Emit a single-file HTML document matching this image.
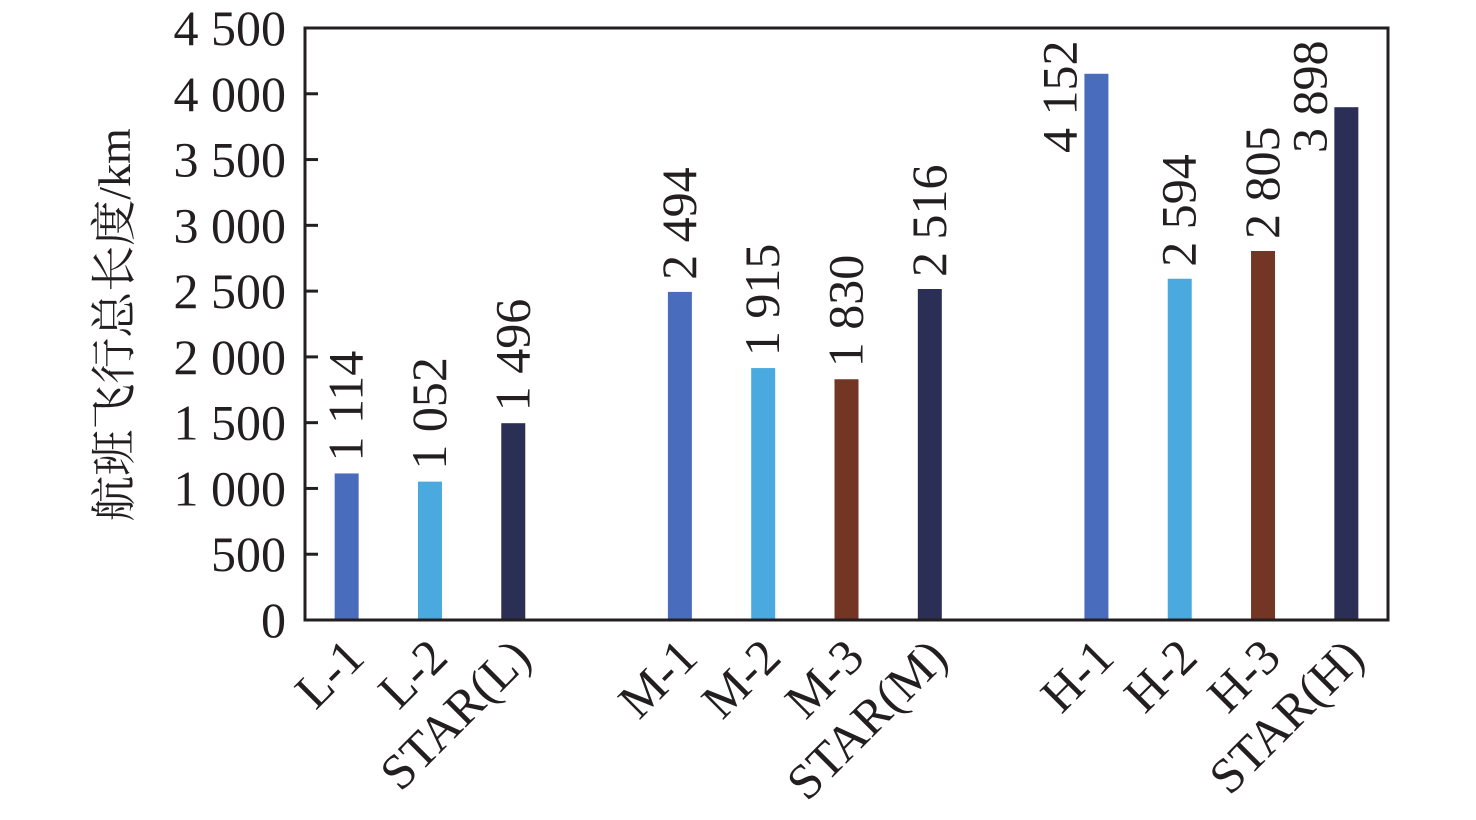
<!DOCTYPE html>
<html><head><meta charset="utf-8"><style>
html,body{margin:0;padding:0;background:#fff;width:1476px;height:820px;overflow:hidden}
svg text{font-family:"Liberation Serif","Noto Serif CJK SC",serif;fill:#231f20}
</style></head><body>
<svg id="chart" width="1476" height="820" viewBox="0 0 1476 820" xmlns="http://www.w3.org/2000/svg"></svg>
<script>
const categories = ["L-1","L-2","STAR(L)","M-1","M-2","M-3","STAR(M)","H-1","H-2","H-3","STAR(H)"];
const slots = [0,1,2,4,5,6,7,9,10,11,12];
const values = [1114,1052,1496,2494,1915,1830,2516,4152,2594,2805,3898];
const valueLabels = ["1 114","1 052","1 496","2 494","1 915","1 830","2 516","4 152","2 594","2 805","3 898"];
const colorKeys = ["a","b","d","a","b","c","d","a","b","c","d"];
const yTicks = [0,500,1000,1500,2000,2500,3000,3500,4000,4500];
const yTickLabels = ["0","500","1 000","1 500","2 000","2 500","3 000","3 500","4 000","4 500"];

const palette = {a:"#4a6cbd", b:"#4aaae0", c:"#733624", d:"#2c2f55"};
const L=305, R=1388, T=28, B=620, nSlots=13, yMax=4500;
const sw=(R-L)/nSlots;
const x = s => L + sw*(s+0.5);
const y = v => B - (B-T)*v/yMax;
const NS="http://www.w3.org/2000/svg";
const svg=document.getElementById('chart');
function mk(tag, attrs, parent){const e=document.createElementNS(NS,tag);for(const k in attrs)e.setAttribute(k,attrs[k]);(parent||svg).appendChild(e);return e;}

categories.forEach((c,i)=>{
  const cx=x(slots[i]);
  const r=mk('rect',{x:cx-12,y:y(values[i]),width:24,height:B-y(values[i]),fill:palette[colorKeys[i]]});
  
  
  let lx=cx+16, ly=y(values[i])-12;
  const estLen=valueLabels[i].length*25;
  if(ly-estLen<35){ ly=28+estLen; lx=cx-20; }
  const t=mk('text',{transform:`translate(${lx},${ly}) rotate(-90)`,'font-size':50});
  t.textContent=valueLabels[i];
  
  
  const xl=mk('text',{transform:`translate(${cx+20},${B+40}) rotate(-45)`,'font-size':50,'text-anchor':'end'});
  xl.textContent=c;
  
  
});

const f=mk('rect',{x:L,y:T,width:R-L,height:B-T,fill:'none',stroke:'#231f20','stroke-width':3});



yTicks.forEach((v,i)=>{
  if(v>0&&v<yMax){
    const tk=mk('line',{x1:L,x2:L+13,y1:y(v),y2:y(v),stroke:'#231f20','stroke-width':3});
    
    
  }
  const t=mk('text',{x:286,y:y(v)+17,'font-size':50,'text-anchor':'end'});
  t.textContent=yTickLabels[i];
  
  
});

const yt=mk('text',{transform:`translate(130,325) rotate(-90)`,'font-size':46,'text-anchor':'middle'});
yt.textContent='航班飞行总长度/km';


</script>
</body></html>
